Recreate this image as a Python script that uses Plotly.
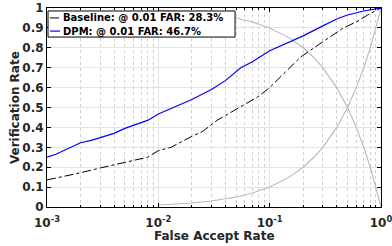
import plotly.graph_objects as go

# DPM (blue) ROC
dpm_far = [0.001, 0.0012, 0.0015, 0.002, 0.0025, 0.003, 0.004, 0.005, 0.006, 0.008, 0.01,
           0.015, 0.02, 0.03, 0.04, 0.055, 0.07, 0.1, 0.15, 0.2, 0.3, 0.4, 0.5, 0.7, 1.0]
dpm_vr = [0.25, 0.265, 0.29, 0.323, 0.335, 0.348, 0.37, 0.395, 0.41, 0.435, 0.467,
          0.51, 0.54, 0.59, 0.635, 0.70, 0.73, 0.785, 0.83, 0.86, 0.91, 0.945, 0.965, 0.985, 1.0]

# Baseline (black dash-dot) ROC
base_far = [0.001, 0.0015, 0.002, 0.003, 0.004, 0.005, 0.006, 0.008, 0.01, 0.013, 0.02,
            0.025, 0.034, 0.05, 0.078, 0.1, 0.15, 0.19, 0.3, 0.46, 0.6, 0.76, 1.0]
base_vr = [0.136, 0.155, 0.172, 0.196, 0.212, 0.225, 0.232, 0.25, 0.283, 0.30, 0.355,
           0.38, 0.437, 0.49, 0.553, 0.60, 0.70, 0.754, 0.83, 0.90, 0.93, 0.965, 1.0]

# Reference gray curves
ref_x = [0.01, 0.015, 0.02, 0.03, 0.04, 0.05, 0.07, 0.1, 0.15, 0.2, 0.25, 0.3, 0.4, 0.5,
         0.6, 0.7, 0.8, 0.85, 0.9, 0.93, 0.95, 0.97, 0.99, 1.0]
ref_up = [0.01, 0.015, 0.02, 0.03, 0.04, 0.05, 0.07, 0.1, 0.15, 0.2, 0.25, 0.3, 0.4, 0.5,
          0.6, 0.7, 0.8, 0.85, 0.9, 0.93, 0.95, 0.97, 0.99, 1.0]
ref_down = [0.99, 0.985, 0.98, 0.97, 0.96, 0.95, 0.93, 0.9, 0.85, 0.8, 0.75, 0.7, 0.6, 0.5,
            0.4, 0.3, 0.2, 0.15, 0.1, 0.07, 0.05, 0.03, 0.01, 0.0]

series_names = ["Baseline: @ 0.01 FAR: 28.3%", "DPM: @ 0.01 FAR: 46.7%"]
x_title = "False Accept Rate"
y_title = "Verification Rate"

x_tickvals = [0.001, 0.01, 0.1, 1]
x_ticktext = ["10<sup>-3</sup>", "10<sup>-2</sup>", "10<sup>-1</sup>", "10<sup>0</sup>"]
x_minorvals = [m * d for d in (0.001, 0.01, 0.1) for m in range(2, 10)]
y_tickvals = [0, 0.1, 0.2, 0.3, 0.4, 0.5, 0.6, 0.7, 0.8, 0.9, 1]
y_ticktext = ["0", "0.1", "0.2", "0.3", "0.4", "0.5", "0.6", "0.7", "0.8", "0.9", "1"]

FONT = "DejaVu Sans"
TXT = "#262626"
fig = go.Figure()
fig.add_trace(go.Scatter(x=ref_x, y=ref_up, mode="lines", line=dict(color="#b8b8b8", width=1.1),
                         showlegend=False, hoverinfo="skip"))
fig.add_trace(go.Scatter(x=ref_x, y=ref_down, mode="lines", line=dict(color="#b8b8b8", width=1.1),
                         showlegend=False, hoverinfo="skip"))
fig.add_trace(go.Scatter(x=base_far, y=base_vr, mode="lines", name=series_names[0], showlegend=False,
                         line=dict(color="black", width=1, dash="dashdot")))
fig.add_trace(go.Scatter(x=dpm_far, y=dpm_vr, mode="lines", name=series_names[1], showlegend=False,
                         line=dict(color="blue", width=1.2)))

axis_common = dict(showline=True, linecolor="black", linewidth=1, mirror="ticks",
                   ticks="inside", ticklen=4, tickcolor="black", zeroline=False,
                   gridcolor="#e3e3e3", gridwidth=1, automargin=False,
                   ticklabeloverflow="allow",
                   tickfont=dict(family=FONT, size=12, color=TXT))

fig.update_xaxes(type="log", range=[-3, 0], tickvals=x_tickvals,
                 ticktext=["<b>%s</b>" % t for t in x_ticktext], ticklabelstandoff=5,
                 minor=dict(tickmode="array", tickvals=x_minorvals, ticks="inside", ticklen=2,
                            tickcolor="black", showgrid=True,
                            gridcolor="#cfcfcf", griddash="dot", gridwidth=1),
                 **axis_common)
fig.update_yaxes(range=[0, 1], tickvals=y_tickvals, ticktext=["<b>%s</b>" % t for t in y_ticktext],
                 **axis_common)

# Axis titles placed precisely
fig.add_annotation(xref="paper", yref="paper", x=0.5, y=-0.146, xanchor="center", yanchor="middle",
                   text="<b>%s</b>" % x_title, showarrow=False,
                   font=dict(family=FONT, size=12, color=TXT))
fig.add_annotation(xref="paper", yref="paper", x=-0.097, y=0.5, xanchor="center", yanchor="middle",
                   text="<b>%s</b>" % y_title, showarrow=False, textangle=-90,
                   font=dict(family=FONT, size=12, color=TXT))

# Manual legend (MATLAB-style compact box)
fig.add_shape(type="rect", xref="paper", yref="paper", x0=0.003, x1=0.563, y0=0.854, y1=0.985,
              line=dict(color="black", width=1), fillcolor="white", layer="above")
legend_rows = [(0.95, dict(color="black", width=1, dash="dashdot")), (0.884, dict(color="blue", width=1.2))]
for (yy, ln), name in zip(legend_rows, series_names):
    fig.add_shape(type="line", xref="paper", yref="paper", x0=0.009, x1=0.039, y0=yy, y1=yy,
                  line=ln, layer="above")
    fig.add_annotation(xref="paper", yref="paper", x=0.042, y=yy, xanchor="left", yanchor="middle",
                       text="<b>%s</b>" % name, showarrow=False,
                       font=dict(family=FONT, size=10, color="black"))

fig.update_layout(
    width=392, height=246,
    margin=dict(l=47, r=11, t=8, b=39),
    paper_bgcolor="white", plot_bgcolor="white",
    font=dict(family=FONT, size=11, color="black"),
    showlegend=False,
)
fig.write_html("out.html", config={"displayModeBar": False},
               post_script="document.body.style.margin='0';document.body.style.overflow='hidden';")
